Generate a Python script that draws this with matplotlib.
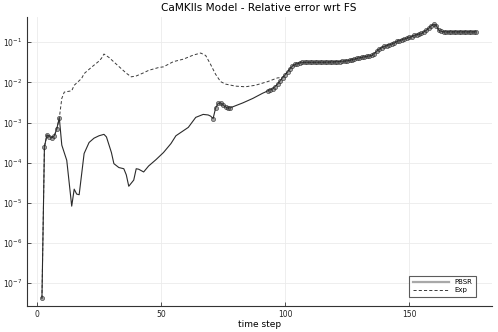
import matplotlib
matplotlib.use("Agg")
import matplotlib.pyplot as plt
from matplotlib.lines import Line2D
from matplotlib.ticker import LogFormatterMathtext, NullLocator

# PBSR relative error per time step
pbsr_steps = [2, 3, 4, 5, 6, 7, 8, 9,
              10, 12, 14, 15, 16, 17, 19, 21, 23, 25, 27, 28, 29, 30, 31, 33, 35, 36, 37,
              39, 40, 41, 43, 45, 48, 51, 54, 56, 59, 61, 64, 67, 69, 70,
              71, 72, 73, 74, 75, 76, 77, 78,
              83, 87, 91, 92] + list(range(93, 178))
pbsr_err = [4.2e-8, 2.5e-4, 4.9e-4, 4.5e-4, 4.2e-4, 4.7e-4, 7.1e-4, 1.3e-3,
            2.75e-4, 1.15e-4, 8.3e-6, 2.2e-5, 1.66e-5, 1.6e-5, 1.7e-4, 3.2e-4, 4.1e-4, 4.7e-4,
            5.1e-4, 4.4e-4, 2.8e-4, 1.8e-4, 9.5e-5, 7.6e-5, 7.1e-5, 5.0e-5, 2.6e-5,
            3.7e-5, 7.1e-5, 6.9e-5, 5.9e-5, 8.3e-5, 1.2e-4, 1.8e-4, 3.0e-4, 4.7e-4, 6.3e-4,
            7.6e-4, 1.35e-3, 1.6e-3, 1.55e-3, 1.45e-3,
            1.26e-3, 2.3e-3, 3.0e-3, 3.1e-3, 2.75e-3, 2.45e-3, 2.3e-3, 2.35e-3,
            3.1e-3, 4.0e-3, 5.4e-3, 5.75e-3,
            # 93 .. 177
            6.2e-3, 6.6e-3, 6.9e-3, 7.9e-3, 9.1e-3, 1.1e-2, 1.32e-2, 1.55e-2, 1.82e-2, 2.2e-2,
            2.57e-2, 2.8e-2, 2.95e-2, 3.1e-2, 3.15e-2, 3.16e-2, 3.16e-2, 3.16e-2, 3.17e-2, 3.17e-2,
            3.17e-2, 3.18e-2, 3.18e-2, 3.19e-2, 3.2e-2, 3.22e-2, 3.24e-2, 3.26e-2, 3.3e-2, 3.32e-2,
            3.38e-2, 3.4e-2, 3.47e-2, 3.55e-2, 3.7e-2, 3.8e-2, 3.98e-2, 4.1e-2, 4.25e-2, 4.35e-2,
            4.47e-2, 4.57e-2, 4.7e-2, 5.25e-2, 6.0e-2, 6.75e-2, 7.4e-2, 7.9e-2, 8.3e-2, 8.7e-2,
            9.1e-2, 9.5e-2, 1.05e-1, 1.1e-1, 1.15e-1, 1.2e-1, 1.26e-1, 1.32e-1, 1.38e-1, 1.48e-1,
            1.55e-1, 1.58e-1, 1.66e-1, 1.82e-1, 2.0e-1, 2.24e-1, 2.6e-1, 2.8e-1, 2.6e-1, 2.0e-1,
            1.86e-1, 1.82e-1, 1.82e-1, 1.82e-1, 1.82e-1, 1.82e-1, 1.82e-1, 1.82e-1, 1.82e-1, 1.82e-1,
            1.82e-1, 1.82e-1, 1.82e-1, 1.82e-1, 1.82e-1]

# steps drawn with a marker
marked_steps = list(range(2, 10)) + list(range(71, 79)) + list(range(93, 178))

# Exp relative error (equal to PBSR up to step 9 and again from step 99)
exp_head_steps = [10, 11, 14, 15, 18, 19, 22, 25, 26, 27, 29, 33, 36, 38, 40, 43, 45, 49,
                  51, 55, 59, 63, 66, 68, 70, 72, 74, 76, 80, 84, 88, 93, 97]
exp_head_err = [4.0e-3, 5.75e-3, 6.2e-3, 8.5e-3, 1.26e-2, 1.66e-2, 2.4e-2, 3.4e-2, 4.0e-2,
                5.1e-2, 4.2e-2, 2.5e-2, 1.7e-2, 1.38e-2, 1.45e-2, 1.74e-2, 2.0e-2, 2.35e-2,
                2.45e-2, 3.3e-2, 3.8e-2, 4.8e-2, 5.4e-2, 4.7e-2, 2.8e-2, 1.6e-2, 1.05e-2,
                9.1e-3, 8.1e-3, 7.8e-3, 8.5e-3, 1.05e-2, 1.3e-2]

x_ticks = [0, 50, 100, 150]
y_ticks = [1e-7, 1e-6, 1e-5, 1e-4, 1e-3, 1e-2, 1e-1]

i9 = pbsr_steps.index(9)
i99 = pbsr_steps.index(99)
exp_steps = pbsr_steps[:i9 + 1] + exp_head_steps + pbsr_steps[i99:]
exp_err = pbsr_err[:i9 + 1] + exp_head_err + pbsr_err[i99:]

mk_x = [s for s in pbsr_steps if s in marked_steps]
mk_y = [e for s, e in zip(pbsr_steps, pbsr_err) if s in marked_steps]

plt.rcParams["font.family"] = ["DejaVu Sans"]
fig = plt.figure(figsize=(4.98, 3.32), dpi=100)
ax = fig.add_axes([0.0536, 0.0792, 0.9337, 0.8696])

line_col = "#2b2b2b"
ax.plot(exp_steps, exp_err, color="#3a3a3a", lw=0.7, dashes=(3.2, 2.2), zorder=2)
ax.plot(pbsr_steps, pbsr_err, color=line_col, lw=0.8, zorder=3)
ax.plot(mk_x, mk_y, ls="none", marker="o", ms=3.0,
        mfc=(0.3, 0.3, 0.3, 0.5), mec=(0.1, 0.1, 0.1, 0.6), mew=0.6, zorder=4)

ax.set_yscale("log")
ax.set_xlim(-4.15, 183.3)
ax.set_ylim(10 ** -7.56, 10 ** -0.37)
ax.set_xticks(x_ticks)
ax.set_yticks(y_ticks)
ax.yaxis.set_major_formatter(LogFormatterMathtext())
ax.yaxis.set_minor_locator(NullLocator())

ax.grid(True, color="#ebebeb", lw=0.6)
ax.set_axisbelow(True)
for side in ("top", "right"):
    ax.spines[side].set_visible(False)
for side in ("left", "bottom"):
    ax.spines[side].set_color("#333333")
    ax.spines[side].set_linewidth(0.8)
ax.tick_params(direction="in", length=3, width=0.6, color="#333333",
               labelsize=5.5, labelcolor="#222222", pad=3)

ax.set_title("CaMKIIs Model - Relative error wrt FS", fontsize=7.6, pad=4)
ax.set_xlabel("time step", fontsize=6.5, labelpad=1)

handles = [
    Line2D([], [], color="#a8a8a8", lw=1.6),
    Line2D([], [], color="#3a3a3a", lw=0.7, dashes=(3.2, 2.2)),
]
leg = ax.legend(handles, ["PBSR", "Exp"], loc="lower right", bbox_to_anchor=(0.966, 0.031),
                borderaxespad=0, fontsize=5, frameon=True, fancybox=False,
                handlelength=5.2, labelspacing=0.3, borderpad=0.5, handletextpad=0.8)
leg.get_frame().set_edgecolor("#333333")
leg.get_frame().set_linewidth(0.8)

fig.savefig("out.png", dpi=100)
